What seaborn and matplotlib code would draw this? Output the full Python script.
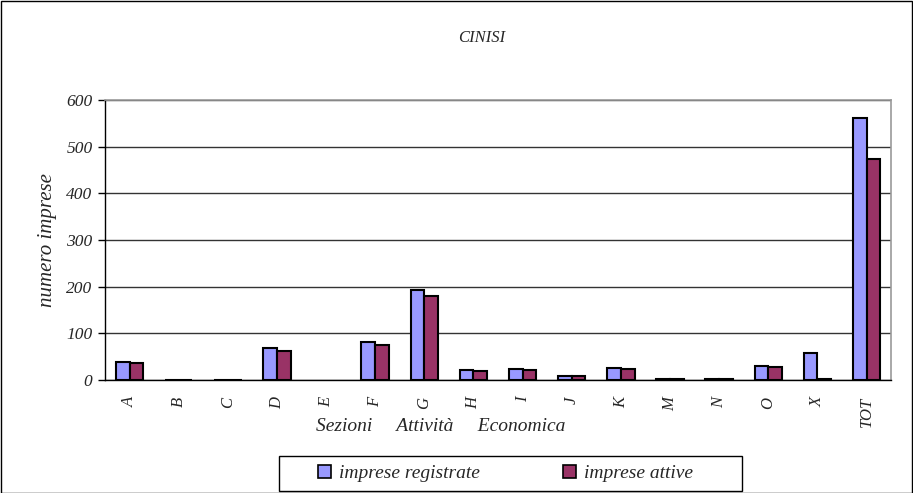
import matplotlib.pyplot as plt
import matplotlib.patches as mpatches
import seaborn as sns
import pandas as pd
import numpy as np

# Imprese per sezione di attività economica - Cinisi
sezioni = ['A', 'B', 'C', 'D', 'E', 'F', 'G', 'H', 'I', 'J', 'K', 'M', 'N', 'O', 'X', 'TOT']
registrate = [38, 1, 1, 68, 0, 82, 193, 21, 24, 9, 26, 3, 2, 30, 59, 561]
attive = [37, 1, 1, 63, 0, 75, 181, 19, 21, 8, 24, 3, 2, 28, 3, 473]
serie = ['imprese registrate', 'imprese attive']
colori = ['#9999FF', '#993366']

df = pd.DataFrame({
    'sezione': sezioni * 2,
    'valore': registrate + attive,
    'serie': [serie[0]] * len(sezioni) + [serie[1]] * len(sezioni),
})

sns.set_style('white')
plt.rcParams['font.family'] = ['Liberation Serif', 'DejaVu Serif']
plt.rcParams['font.style'] = 'italic'

fig = plt.figure(figsize=(9.13, 4.93), dpi=100)
ax = fig.add_axes([0.115, 0.229, 0.861, 0.568])

sns.barplot(data=df, x='sezione', y='valore', hue='serie', order=sezioni,
            hue_order=serie, palette=colori, saturation=1, width=0.56, gap=0,
            edgecolor='black', linewidth=1.5, ax=ax, legend=True)

# bars with value 0 are not drawn in the original
for p in ax.patches:
    if p.get_height() == 0:
        p.set_linewidth(0)

ax.set_ylim(0, 600)
ax.set_xlim(-0.5, len(sezioni) - 0.5)
ax.set_yticks(range(0, 601, 100))
ax.set_yticklabels([str(v) for v in range(0, 601, 100)], fontsize=12.5, style='italic')
ax.yaxis.grid(True, color='#333333', linewidth=1)
ax.set_axisbelow(True)

ax.set_xticks(range(len(sezioni)))
ax.set_xticklabels(sezioni, rotation=90, fontsize=12, style='italic')
ax.set_xticks(np.arange(-0.5, len(sezioni)), minor=True)
ax.tick_params(axis='x', which='major', length=0, pad=12)
ax.tick_params(axis='x', which='minor', length=5, width=1, color='black', direction='out')
ax.tick_params(axis='y', length=5, width=1, color='black', direction='out', left=True, pad=4)
ax.set_xlabel('')
ax.set_ylabel('')

for s in ['left', 'bottom']:
    ax.spines[s].set_color('black')
    ax.spines[s].set_linewidth(1)
for s in ['top', 'right']:
    ax.spines[s].set_color('#999999')
    ax.spines[s].set_linewidth(1.2)

leg = ax.legend(loc='center left', bbox_to_anchor=(318 / 913, 0.04), bbox_transform=fig.transFigure,
                ncol=2, frameon=False, borderpad=0, borderaxespad=0,
                prop={'family': 'Liberation Serif', 'style': 'italic', 'size': 14},
                handlelength=0.67, handleheight=0.67, columnspacing=4.3,
                handletextpad=0.4)
for h in leg.legend_handles:
    h.set_edgecolor('black')
    h.set_linewidth(1.2)

# legend box
fig.patches.append(mpatches.Rectangle((279 / 913, 2 / 493), 463 / 913, 35 / 493,
                                      transform=fig.transFigure, fill=False,
                                      edgecolor='black', linewidth=1))

fig.text(0.528, 0.923, 'CINISI', ha='center', va='center', fontsize=12, style='italic')
fig.text(0.052, 0.513, 'numero imprese', rotation=90, ha='center', va='center',
         fontsize=15, style='italic')
fig.text(0.483, 0.135, 'Sezioni     Attività     Economica', ha='center', va='center',
         fontsize=14, style='italic')

# outer chart border
fig.patches.append(mpatches.Rectangle((0.001, 0.001), 0.998, 0.997, transform=fig.transFigure,
                                      fill=False, edgecolor='black', linewidth=1))

plt.savefig('out.png', dpi=100)
